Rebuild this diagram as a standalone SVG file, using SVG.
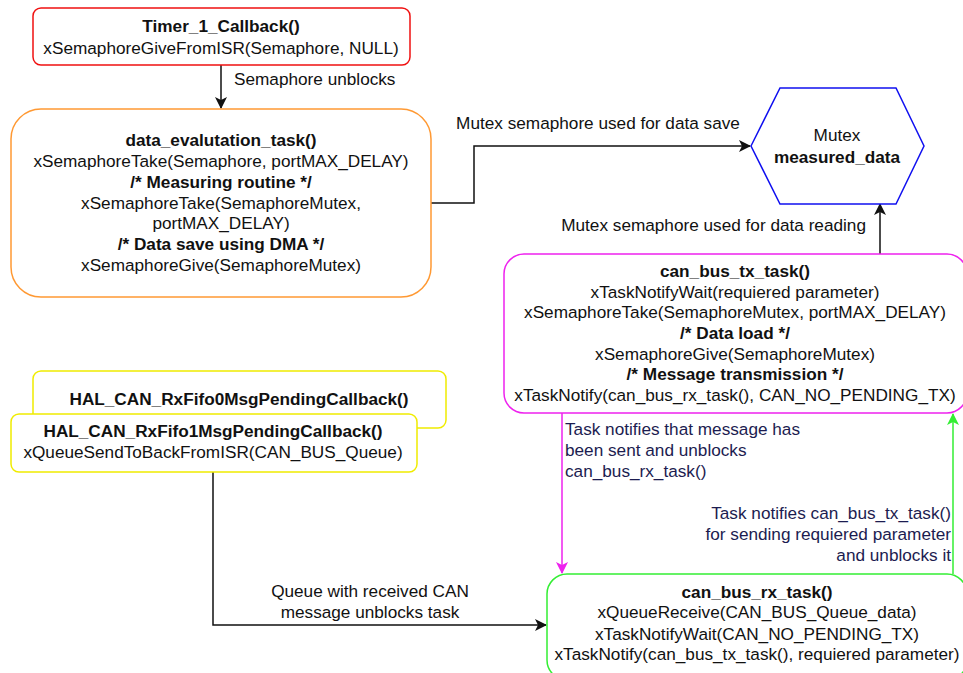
<svg xmlns="http://www.w3.org/2000/svg" width="963" height="673" viewBox="0 0 963 673">
  <style>
    text { font-family: "Liberation Sans", Arial, sans-serif; font-size: 17.2px; fill: #111; }
    .c { text-anchor: middle; }
    .e { text-anchor: end; }
    .b { font-weight: bold; }
    .n { fill: #1c1c50; }
    .box { fill: #fff; stroke-width: 1.5; }
    .wire { fill: none; stroke-width: 1.5; }
  </style>
  <defs>
    <marker id="arrK" markerUnits="userSpaceOnUse" markerWidth="14" markerHeight="14" viewBox="0 0 14 14" refX="12" refY="7" orient="auto">
      <path d="M1,1 L13,7 L1,13 L4,7 Z" fill="#111"/>
    </marker>
    <marker id="arrM" markerUnits="userSpaceOnUse" markerWidth="14" markerHeight="14" viewBox="0 0 14 14" refX="12" refY="7" orient="auto">
      <path d="M1,1 L13,7 L1,13 L4,7 Z" fill="#EE22EE"/>
    </marker>
    <marker id="arrG" markerUnits="userSpaceOnUse" markerWidth="14" markerHeight="14" viewBox="0 0 14 14" refX="12" refY="7" orient="auto">
      <path d="M1,1 L13,7 L1,13 L4,7 Z" fill="#33EE33"/>
    </marker>
  </defs>

  <rect width="963" height="673" fill="#fff"/>

  <!-- connectors -->
  <g id="connectors">
    <path class="wire" d="M221,65 V108" stroke="#111" marker-end="url(#arrK)"/>
    <text x="234" y="85">Semaphore unblocks</text>

    <path class="wire" d="M431,203 H474 V146 H750" stroke="#111" marker-end="url(#arrK)"/>
    <text x="598" y="129" class="c">Mutex semaphore used for data save</text>

    <path class="wire" d="M880,254 V204" stroke="#111" marker-end="url(#arrK)"/>
    <text x="866" y="231" class="e">Mutex semaphore used for data reading</text>

    <path class="wire" d="M213,472 V625 H546" stroke="#111" marker-end="url(#arrK)"/>
    <text x="370" y="597" class="c">Queue with received CAN</text>
    <text x="370" y="618" class="c">message unblocks task</text>

    <path class="wire" d="M562,413 V573" stroke="#EE22EE" marker-end="url(#arrM)"/>
    <text x="565" y="435" class="n">Task notifies that message has</text>
    <text x="565" y="456" class="n">been sent and unblocks</text>
    <text x="565" y="477" class="n">can_bus_rx_task()</text>

    <path class="wire" d="M953,574 V414" stroke="#33EE33" marker-end="url(#arrG)"/>
    <text x="951" y="519" class="e n">Task notifies can_bus_tx_task()</text>
    <text x="951" y="540" class="e n">for sending requiered parameter</text>
    <text x="951" y="561" class="e n">and unblocks it</text>
  </g>

  <!-- Timer interrupt callback -->
  <g id="timer-callback">
    <rect class="box" x="33" y="8" width="377" height="57" rx="8" stroke="#F01010"/>
    <text x="221" y="32" class="c b">Timer_1_Callback()</text>
    <text x="221" y="54" class="c">xSemaphoreGiveFromISR(Semaphore, NULL)</text>
  </g>

  <!-- Data evaluation task -->
  <g id="data-evaluation-task">
    <rect class="box" x="11" y="109" width="420" height="188" rx="30" stroke="#FF9933"/>
    <text x="221" y="146" class="c b">data_evalutation_task()</text>
    <text x="221" y="167" class="c">xSemaphoreTake(Semaphore, portMAX_DELAY)</text>
    <text x="221" y="188" class="c b">/* Measuring routine */</text>
    <text x="221" y="209" class="c">xSemaphoreTake(SemaphoreMutex,</text>
    <text x="221" y="229" class="c">portMAX_DELAY)</text>
    <text x="221" y="250" class="c b">/* Data save using DMA */</text>
    <text x="221" y="271" class="c">xSemaphoreGive(SemaphoreMutex)</text>
  </g>

  <!-- Mutex -->
  <g id="mutex">
    <polygon points="751,146 780,88 896,88 924,146 896,204 780,204" fill="#fff" stroke="#1010F0" stroke-width="1.5"/>
    <text x="837" y="141" class="c">Mutex</text>
    <text x="837" y="163" class="c b">measured_data</text>
  </g>

  <!-- CAN transmit task -->
  <g id="can-bus-tx-task">
    <rect class="box" x="504" y="254" width="463" height="159" rx="20" stroke="#EE22EE"/>
    <text x="735" y="277" class="c b">can_bus_tx_task()</text>
    <text x="735" y="298" class="c">xTaskNotifyWait(requiered parameter)</text>
    <text x="735" y="318" class="c">xSemaphoreTake(SemaphoreMutex, portMAX_DELAY)</text>
    <text x="735" y="339" class="c b">/* Data load */</text>
    <text x="735" y="360" class="c">xSemaphoreGive(SemaphoreMutex)</text>
    <text x="735" y="380" class="c b">/* Message transmission */</text>
    <text x="735" y="401" class="c">xTaskNotify(can_bus_rx_task(), CAN_NO_PENDING_TX)</text>
  </g>

  <!-- CAN FIFO 0 callback -->
  <g id="fifo0-callback">
    <rect class="box" x="33" y="371" width="413" height="57" rx="8" stroke="#F0EC00"/>
    <text x="239" y="405" class="c b">HAL_CAN_RxFifo0MsgPendingCallback()</text>
  </g>

  <!-- CAN FIFO 1 callback -->
  <g id="fifo1-callback">
    <rect class="box" x="11" y="414" width="406" height="58" rx="8" stroke="#F0EC00"/>
    <text x="213" y="437" class="c b">HAL_CAN_RxFifo1MsgPendingCallback()</text>
    <text x="213" y="458" class="c">xQueueSendToBackFromISR(CAN_BUS_Queue)</text>
  </g>

  <!-- CAN receive task -->
  <g id="can-bus-rx-task">
    <rect class="box" x="547" y="574" width="420" height="106" rx="20" stroke="#33EE33"/>
    <text x="757" y="598" class="c b">can_bus_rx_task()</text>
    <text x="757" y="618" class="c">xQueueReceive(CAN_BUS_Queue_data)</text>
    <text x="757" y="640" class="c">xTaskNotifyWait(CAN_NO_PENDING_TX)</text>
    <text x="757" y="660" class="c">xTaskNotify(can_bus_tx_task(), requiered parameter)</text>
  </g>
</svg>
